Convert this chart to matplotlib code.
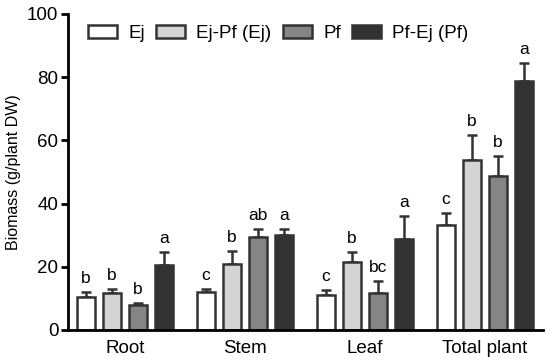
import numpy as np
import matplotlib.pyplot as plt

plt.rcParams['font.family'] = ['Liberation Sans', 'DejaVu Sans']

organs = ['Root', 'Stem', 'Leaf', 'Total plant']
treatments = ['Ej', 'Ej-Pf (Ej)', 'Pf', 'Pf-Ej (Pf)']
means = {
    'Ej':         [10.4, 12.0, 11.1, 33.2],
    'Ej-Pf (Ej)': [11.7, 20.9, 21.5, 53.8],
    'Pf':         [7.9, 29.4, 11.7, 48.7],
    'Pf-Ej (Pf)': [20.5, 30.0, 28.8, 78.8],
}
errs = {
    'Ej':         [1.6, 1.0, 1.5, 3.8],
    'Ej-Pf (Ej)': [1.3, 4.1, 3.2, 7.9],
    'Pf':         [0.6, 2.6, 3.8, 6.3],
    'Pf-Ej (Pf)': [4.1, 2.0, 7.2, 5.7],
}
letters = {
    'Ej':         ['b', 'c', 'c', 'c'],
    'Ej-Pf (Ej)': ['b', 'b', 'b', 'b'],
    'Pf':         ['b', 'ab', 'bc', 'b'],
    'Pf-Ej (Pf)': ['a', 'a', 'a', 'a'],
}
colors = ['white', '#d4d4d4', '#858585', '#333333']
edge = '#333333'

fig = plt.figure(figsize=(5.5, 3.64), dpi=100)
ax = fig.add_axes([68/550, 34/364, 475/550, 316/364])

x = np.arange(len(organs))
width = 0.15
step = 0.2167
for i, t in enumerate(treatments):
    pos = x + (i - 1.5) * step
    ax.bar(pos, means[t], width, color=colors[i], edgecolor=edge, linewidth=1.8,
           label=t, zorder=2)
    ax.errorbar(pos, means[t], yerr=[np.zeros(4), errs[t]], fmt='none',
                ecolor=edge, elinewidth=1.8, capsize=3.5, capthick=1.8, zorder=1)
    for p, m, e, l in zip(pos, means[t], errs[t], letters[t]):
        ax.text(p, m + e + 2, l, ha='center', va='bottom', fontsize=12.5)

ax.set_xlim(-0.475, 3.483)
ax.set_ylim(0, 100)
ax.set_yticks([0, 20, 40, 60, 80, 100])
ax.set_xticks(x)
ax.set_xticklabels(organs)
ax.tick_params(axis='x', length=0, labelsize=13.5, pad=7)
ax.tick_params(axis='y', length=5, width=2, labelsize=13.5, pad=2)
ax.set_ylabel('Biomass (g/plant DW)', fontsize=11.5, labelpad=4)
for s in ['top', 'right']:
    ax.spines[s].set_visible(False)
for s in ['left', 'bottom']:
    ax.spines[s].set_linewidth(2)

ax.legend(loc='center left', bbox_to_anchor=(20/475, 0.937), ncol=4, frameon=False,
          fontsize=13.5, handlelength=1.55, handleheight=0.7, columnspacing=0.6,
          handletextpad=0.6, borderpad=0, borderaxespad=0)

plt.savefig('out.png', dpi=100)
